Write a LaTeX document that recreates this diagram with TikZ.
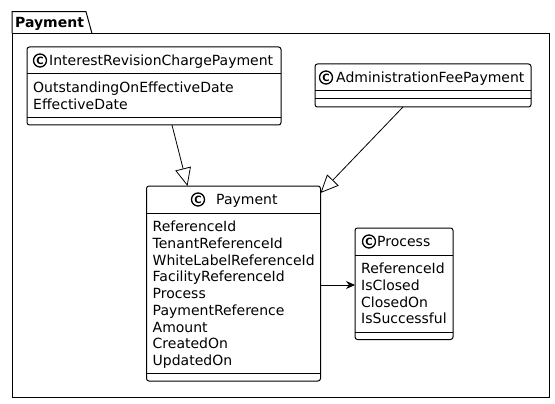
\documentclass[tikz,border=0pt]{standalone}
\usepackage{fontspec}
\setmainfont{DejaVu Sans}
\usetikzlibrary{arrows.meta,calc}
\begin{document}
\begin{tikzpicture}[x=1pt,y=-1pt,
  classbox/.style={draw, line width=1pt, rounded corners=2.5pt, fill=white, inner sep=0pt, outer sep=0pt},
  txt/.style={anchor=base west, inner sep=0pt, font=\fontsize{14}{16}\selectfont},
  cicon/.style={circle, draw, line width=1.3pt, minimum size=13pt, inner sep=0pt, font=\bfseries\fontsize{10}{10}\selectfont},
  sepline/.style={line width=1pt},
  inherit/.style={-{Triangle[open, length=18pt, width=16pt]}, line width=0.8pt},
  assoc/.style={-{Stealth[length=9pt, width=8pt, inset=3pt]}, line width=0.8pt}
]
\useasboundingbox (0,0) rectangle (555,404);
% package
\draw[line width=1pt] (12,33.5) -- (12,11.7) -- (86,11.7) -- (92,33.5);
\node[draw, line width=1pt, minimum width=537pt, minimum height=363.5pt, inner sep=0pt, anchor=north west] (pkg) at (12,33.5) {};
\node[anchor=base west, inner sep=0pt, font=\bfseries\fontsize{14}{16}\selectfont] (pkglabel) at (15,28) {Payment};

% InterestRevisionChargePayment
\node[classbox, minimum width=254pt, minimum height=78pt] (irc) at (154,86) {};
\draw[sepline] (irc.west |- 0,74) -- (irc.east |- 0,74);
\draw[sepline] (irc.west |- 0,117.7) -- (irc.east |- 0,117.7);
\node[cicon] (irci) at (40,60.5) {C};
\node[txt] (ircn) at (49,65.6) {InterestRevisionChargePayment};
\node[txt] (irc1) at (33,92.8) {OutstandingOnEffectiveDate};
\node[txt] (irc2) at (33,109.5) {EffectiveDate};

% AdministrationFeePayment
\node[classbox, minimum width=216pt, minimum height=43pt] (afp) at (423,85.5) {};
\draw[sepline] (afp.west |- 0,91) -- (afp.east |- 0,91);
\draw[sepline] (afp.west |- 0,99) -- (afp.east |- 0,99);
\node[cicon] (afpi) at (326,77.5) {C};
\node[txt] (afpn) at (336,82.6) {AdministrationFeePayment};

% Payment
\node[classbox, minimum width=174pt, minimum height=195pt] (pay) at (233.5,283.5) {};
\draw[sepline] (pay.west |- 0,213) -- (pay.east |- 0,213);
\draw[sepline] (pay.west |- 0,373.6) -- (pay.east |- 0,373.6);
\node[cicon] (payi) at (198,199.5) {C};
\node[txt] (payn) at (216,204.6) {Payment};
\node[txt] (pa1) at (152.5,231.8) {ReferenceId};
\node[txt] (pa2) at (152.5,248.5) {TenantReferenceId};
\node[txt] (pa3) at (152.5,265.2) {WhiteLabelReferenceId};
\node[txt] (pa4) at (152.5,281.9) {FacilityReferenceId};
\node[txt] (pa5) at (152.5,298.6) {Process};
\node[txt] (pa6) at (152.5,315.3) {PaymentReference};
\node[txt] (pa7) at (152.5,332.0) {Amount};
\node[txt] (pa8) at (152.5,348.7) {CreatedOn};
\node[txt] (pa9) at (152.5,365.4) {UpdatedOn};

% Process
\node[classbox, minimum width=98pt, minimum height=111.5pt] (proc) at (404,283.75) {};
\draw[sepline] (proc.west |- 0,255) -- (proc.east |- 0,255);
\draw[sepline] (proc.west |- 0,332.1) -- (proc.east |- 0,332.1);
\node[cicon] (proci) at (369,241.5) {C};
\node[txt] (procn) at (377,246.6) {Process};
\node[txt] (pr1) at (361,273.8) {ReferenceId};
\node[txt] (pr2) at (361,290.5) {IsClosed};
\node[txt] (pr3) at (361,307.2) {ClosedOn};
\node[txt] (pr4) at (361,323.9) {IsSuccessful};

% connectors
\draw[inherit] ($(irc.south)+(18,0)$) -- ($(pay.north)+(-46,0)$);
\draw[inherit] ($(afp.south)+(-20,0)$) -- ($(pay.north east)+(0,7)$);
\draw[assoc] ($(pay.east)+(0,1.5)$) -- ($(proc.west)+(0,1.25)$);
\end{tikzpicture}
\end{document}
